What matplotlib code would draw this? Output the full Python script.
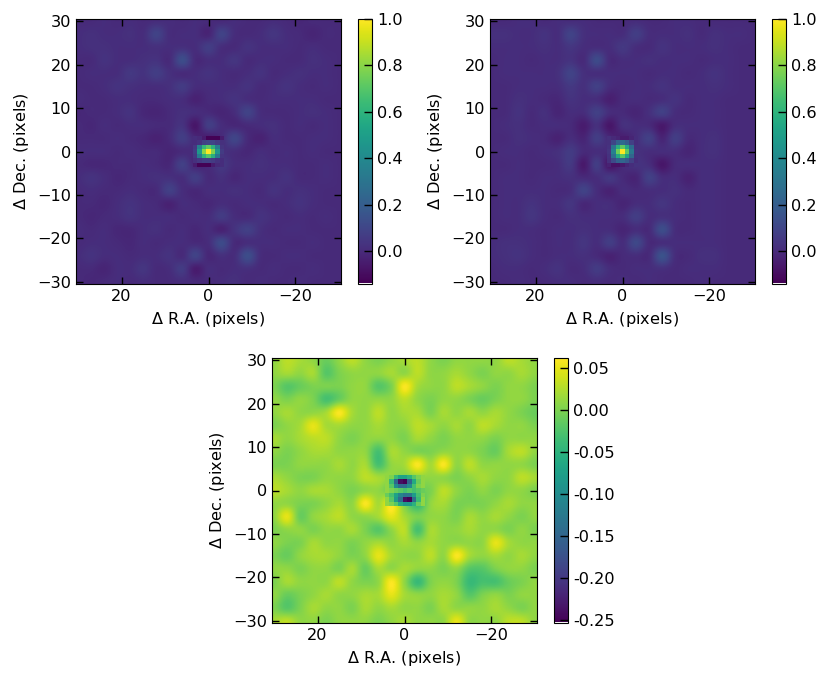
import matplotlib
matplotlib.use("Agg")
import matplotlib.pyplot as plt
import numpy as np

# coarse maps, one value every 3 pixels (Dec +30 -> -30, R.A. +30 -> -30), units of 0.01
model_a = [
    [ 0, 0, 1, 0, 1, 0, 1, 1, 0, 1, 0, 0, 1, 0, 0, 1, 0,-1, 0, 0, 0],
    [ 1, 2, 1, 1, 2, 1, 9, 1, 1, 1,-2, 9, 1, 0, 1, 4, 1, 0,-2, 0, 0],
    [ 1, 2, 2, 1, 1, 1, 2, 1, 2, 1, 7, 1, 0, 3, 1, 1, 1, 0, 1, 0, 0],
    [ 0, 0, 3, 1, 1, 2, 3, 0, 13, 0, 1, 1, 4, 0, 1, 1, 0, 0, 2, 1, 0],
    [ 0, 1, 1, 1, 5, 3, 7, 2, 0, 1, 3, 1, 0, 1, 3, 0, 1, 2, 1, 1, 0],
    [ 0, 0, 1, 3, 2, 1, 1, 2, 6, 1, 1, 1, 1, 3, 0, 1, 3, 1, 0, 1, 0],
    [ 1, 0, 0, 1, 1, 0, 0, 1, 1,-3, 0, 1, 3, 1, 0, 1, 1, 1, 1, 0, 0],
    [-1, 0, 0, 1, 3,-1,-2, 0, 2, 1, 0,-2, 1, 9, 1, 0, 0, 1, 2, 1, 0],
    [ 0,-1, 1, 0, 1, 1, 0, 0, 3,-7, 7, 1,-1, 0, 1, 2, 0, 1, 0, 1, 0],
    [ 0, 0, 0, 1, 0,-1,-3, 0, 7,-1,-5, 0,10, 0,-3, 1, 0, 0, 1, 1, 0],
    [ 1, 1, 1, 0, 1, 0, 0,-2, 0, 0, 0, 2, 1,-1, 1, 0, 1, 0, 1, 0, 0],
    [ 0,-1,-1, 0, 0, 1, 0,-1, 8,-2, 0, 5, 1, 1, 2, 1, 1, 0, 0, 1, 0],
    [ 1, 3, 1,-1, 0, 1, 2, 2, 1, 7, 0, 2,-1, 1, 1, 1, 3, 0, 0, 1, 0],
    [ 0, 1, 0, 0, 1, 0, 0, 8, 1,-1, 1, 1, 2, 1, 0, 3, 1, 2, 1, 0, 0],
    [ 0, 0,-1, 1, 3, 1, 0,-3, 1, 0,-1, 1, 0, 1, 1, 0, 1, 3, 1, 0, 0],
    [ 0,-1, 0, 1, 3, 1, 1, 1, 0, 1, 1, 6, 1, 0, 3, 1, 0, 1, 0, 1, 0],
    [ 1, 0, 1,-1,-1, 1, 2, 0, 1,-1, 1,-3, 3, 8, 2, 0, 1, 1, 0, 0, 0],
    [ 0, 1, 1, 0,-1, 1, 0, 1, 1, 0, 1,12, 0, 1, 1, 1, 0, 0, 1, 0, 0],
    [ 1, 3, 1, 1, 0, 1, 1, 3, 0, 9,-1, 2, 1, 13, 1, 0, 1, 1, 0, 0, 0],
    [ 0, 0,-2, 1, 1, 4, 0, 1, 6,-5, 1, 0, 1, 2, 0, 1, 0, 0, 1, 0, 0],
    [ 0,-1, 0, 1, 0, 1, 0, 0, 1, 0, 0, 1, 2, 0, 1, 0, 0, 1, 0, 0, 0],
]
model_b = [
    [ 0, 0, 1, 1, 0, 1, 1, 1, 0, 0, 0, 1, 0, 0, 1, 1, 0, 0, 0, 0, 0],
    [ 2, 2, 1, 1, 3, 1, 9, 2, 1, 1, 1, 7, 1, 1, 1, 2, 0, 2, 1, 1, 0],
    [ 1, 1, 1, 1, 2, 1, 4, 1, 1, 1, 5, 1, 0, 3, 1, 1, 1, 2, 1, 0, 0],
    [ 0, 1, 1, 0, 1, 1, 3, 0, 12, 0, 1, 1, 2, 1, 1, 1, 0, 1, 1, 0, 0],
    [ 0, 1, 1, 1, 1, 2, 9, 2, 1, 1, 1, 1, 0, 1, 1, 0, 1, 3, 1, 0, 0],
    [ 0, 0, 1, 1, 1, 1, 5, 2, 8, 1, 0, 1, 1, 3, 1, 1, 1, 2, 1, 0, 0],
    [ 0, 0, 2, 1, 0,-1, 3, 1, 1,-4, 0, 1, 0, 1, 3, 0, 1, 1, 0, 0, 0],
    [ 0, 0, 3, 0, 2,-2, 1, 1, 8, 1, 0,-2, 2, 8, 1, 0, 1, 1, 0, 0, 0],
    [ 0, 1, 2, 0, 1, 1, 0,-5, 2,-7, 2, 1, 0,-6, 1, 1, 1, 1, 0, 0, 0],
    [ 0, 0, 2, 1, 0,-3, 1,-2, 7,-1,-4, 1, 8,-2, 7, 0, 1, 2, 0, 0, 0],
    [ 0, 1, 1, 0, 1, 2, 6, 0, 1, 0, 0, 2, 1, 1, 1,-2, 1, 2, 0, 0, 0],
    [ 0, 0, 1, 0, 0, 1, 5,-6, 7,-8, 0, 3, 1,-7, 0, 1, 1, 1, 0, 0, 0],
    [ 0, 1, 1, 0, 1, 1, 2, 0, 1, 5, 0,-2, 8, 1, 1,-3, 1, 1, 0, 0, 0],
    [ 0, 1, 1, 1, 1, 0, 1, 9, 1,-3, 1, 0, 1, 1, 2, 0, 1, 1, 0, 0, 0],
    [ 0, 1, 1, 3, 1, 1, 4,-1, 1, 1,-2, 1, 1, 4, 1, 0, 1, 1, 0, 0, 0],
    [ 0, 1, 1, 4, 1, 0, 2, 1, 1, 1, 1, 7, 1, 2, 1, 0, 1, 1, 0, 0, 0],
    [ 0, 0, 1, 1, 0, 1, 1, 2, 1, 1,-2, 1, 0,13, 1, 0, 1, 1, 0, 0, 0],
    [ 1, 2, 2, 1, 0, 1, 1, 4, 1, 7, 1,11, 0, 1, 1, 1, 1, 1, 0, 0, 0],
    [ 1, 2, 3, 1, 0, 1, 1, 2, 0,-3, 0, 1, 0,15, 1, 0, 2, 2, 0, 0, 0],
    [ 0, 1, 1, 0, 1, 3, 0, 1, 6, 1, 0, 1, 1, 2, 0, 1, 1, 1, 0, 0, 0],
    [ 0, 0, 1, 0, 0, 1, 1, 0, 1, 0, 1, 0, 1, 0, 0, 0, 1, 0, 0, 0, 0],
]
residual = [
    [ 1, 3, 2, 1,-1, 1, 3, 1, 0, 1, 2, 3, 1, 0, 1, 1, 1, 1, 3, 2, 1],
    [ 1, 2, 1, 2,-2, 0, 1, 1, 1, 2, 1, 3, 1, 1, 2, 1, 0, 1, 1, 2, 1],
    [ 0,-2,-1, 0, 0, 0, 1, 1,-2, 0, 6, 2, 1, 1, 3, 2, 1, 0, 1, 1, 0],
    [ 1, 0, 1, 0,-3,-1, 1, 1, 1, 1, 3, 1, 0, 1, 1, 0,-1, 0, 1, 1, 0],
    [ 1, 2, 1, 1, 2, 6, 2, 1, 3, 1, 2, 2, 0, 2, 1, 2, 1, 2, 1, 0,-1],
    [ 0, 1, 2, 5, 2, 2, 1, 1, 2, 1, 1, 3, 2, 1, 2, 1, 3, 2, 1, 1, 0],
    [ 2, 1, 2, 3, 3, 1, 0, 1, 1, 1, 0, 2, 1, 0, 1, 1, 1, 0, 1, 1, 1],
    [ 1, 0, 1, 2, 2, 1, 1, 1,-3, 2, 1, 0, 0, 1, 1, 1, 0,-1, 2, 3, 1],
    [ 0, 0, 1, 1, 1, 2, 1, 2,-3, 1, 2, 6, 2, 6, 1, 3, 1, 1, 1, 1, 0],
    [ 2, 1, 0, 0, 1, 1, 1, 3, 2, 1, 0, 1, 1, 1, 0, 1, 2, 1, 1, 3, 2],
    [ 3, 2, 1, 2, 2, 1, 0, 1, 1,-1,-2,-1, 0, 3, 1, 0, 1, 0, 1, 1, 0],
    [ 1, 1, 0, 0, 1, 2, 1, 6, 2, 6, 0,-4, 1, 2, 0, 0, 0, 1, 2, 1, 1],
    [ 1, 5,-1, 1, 2, 3, 1, 1, 2, 5, 2, 0, 1, 1, 0, 2, 1, 2, 1, 0, 1],
    [ 0, 1, 1, 0, 1, 1, 2, 0,-2, 1, 3,-3, 2, 1, 1, 2, 1, 1, 0, 1, 0],
    [ 1, 0, 0, 2, 1, 1, 0, 1, 2, 1, 2, 1, 2, 1, 1, 1, 1, 5, 2, 1, 1],
    [ 0,-1, 1, 2, 2, 1, 0, 1, 5, 2, 1, 1, 3, 1, 6, 2, 1, 2, 1, 2, 1],
    [ 1, 1, 0, 1, 1, 0, 2,-1, 2, 1, 2, 1, 1, 0, 1,-2,-2, 0, 1, 1, 0],
    [ 0, 2, 1, 1, 1, 3, 1, 0, 1, 6, 1,-4, 0, 1, 0,-4,-3,-3,-1, 0, 1],
    [ 1,-1, 0, 1, 2, 1, 1, 2, 2, 5, 2, 1, 1, 2, 1,-2, 0, 1, 0, 1, 1],
    [ 0,-2, 0, 2, 1, 1, 0, 2, 1, 2, 1, 1, 0, 2, 1, 1, 1, 2, 1, 0, 1],
    [ 2, 3, 1, 1, 0, 1, 1, 1, 0, 1, 2, 1, 1, 1, 5, 1, 1, 1, 3, 3, 1],
]

# pixel-scale centres, R.A. +N -> -N across, Dec +N -> -N down
core_a = [
    [ 0.01, 0.00,-0.05,-0.13,-0.13,-0.13,-0.05],
    [ 0.01, 0.03, 0.08, 0.10, 0.10, 0.06, 0.02],
    [ 0.05, 0.36, 0.62, 0.72, 0.60, 0.34, 0.04],
    [ 0.07, 0.48, 0.80, 1.00, 0.78, 0.46, 0.06],
    [ 0.05, 0.34, 0.60, 0.70, 0.58, 0.32, 0.04],
    [ 0.02, 0.05, 0.08, 0.08, 0.06, 0.03, 0.01],
    [-0.05,-0.13,-0.13,-0.13,-0.05, 0.00, 0.01],
]
core_b = [
    [ 0.02, 0.00,-0.02,-0.05,-0.05,-0.02, 0.01],
    [ 0.02, 0.10, 0.22, 0.26, 0.20, 0.08, 0.01],
    [ 0.03, 0.30, 0.58, 0.72, 0.55, 0.26, 0.02],
    [ 0.04, 0.36, 0.75, 1.00, 0.72, 0.32, 0.03],
    [ 0.03, 0.28, 0.56, 0.70, 0.52, 0.24, 0.02],
    [ 0.02, 0.12, 0.22, 0.24, 0.18, 0.08, 0.01],
    [-0.03,-0.08,-0.08,-0.06,-0.02, 0.01, 0.03],
]
core_res = [
    [ 0.01, 0.00,-0.04,-0.07,-0.07,-0.05,-0.02, 0.00, 0.01],
    [ 0.01,-0.04,-0.15,-0.24,-0.25,-0.15,-0.06,-0.01, 0.01],
    [ 0.01,-0.02,-0.10,-0.14,-0.14,-0.10,-0.03, 0.00, 0.01],
    [ 0.01, 0.00,-0.01,-0.02,-0.03,-0.02,-0.03,-0.02,-0.01],
    [-0.01,-0.03,-0.07,-0.11,-0.13,-0.13,-0.08,-0.03, 0.00],
    [ 0.01,-0.02,-0.08,-0.14,-0.24,-0.25,-0.14,-0.04, 0.01],
    [ 0.01, 0.00,-0.02,-0.06,-0.08,-0.08,-0.05,-0.01, 0.01],
]

ticks = [-30, -20, -10, 0, 10, 20, 30]
xticks = [-20, 0, 20]
cb_ticks_top = [0.0, 0.2, 0.4, 0.6, 0.8, 1.0]
cb_ticks_res = [-0.25, -0.20, -0.15, -0.10, -0.05, 0.00, 0.05]

W, H = 830., 683.
fs = 11.6


def panel(left, top, grid, core, vmin, vmax, cticks, cfmt):
    ax = fig.add_axes([left/W, 1-(top+265)/H, 265/W, 265/H])
    ext = (31.5, -31.5, -31.5, 31.5)
    # catrom passes through the grid values, agg's bicubic smooths them away
    im = ax.imshow(np.array(grid)*0.01, extent=ext, cmap='viridis', vmin=vmin, vmax=vmax,
                   interpolation='catrom', aspect='equal')
    core = np.array(core)
    ny, nx = core.shape
    ax.imshow(core, extent=(nx/2., -nx/2., -ny/2., ny/2.), cmap='viridis', vmin=vmin, vmax=vmax,
              interpolation='nearest', aspect='equal')
    ax.set_xlim(30.5, -30.5)
    ax.set_ylim(-30.5, 30.5)
    ax.set_xticks(xticks)
    ax.set_yticks(ticks)
    ax.tick_params(direction='in', top=True, right=True, length=5, width=1, labelsize=fs)
    ax.set_xlabel(r'$\Delta$ R.A. (pixels)', fontsize=fs, labelpad=4.5)
    ax.set_ylabel(r'$\Delta$ Dec. (pixels)', fontsize=fs, labelpad=4.5)

    cax = fig.add_axes([(left+282)/W, 1-(top+265)/H, 14/W, 265/H])
    cb = fig.colorbar(im, cax=cax)
    cb.set_ticks(cticks)
    cb.set_ticklabels([cfmt % t for t in cticks])
    cax.tick_params(direction='in', length=6, width=1, labelsize=fs)
    # thin white strip at the foot of the bar
    cax.set_ylim(vmin - 0.005*(vmax-vmin), vmax)
    return ax


fig = plt.figure(figsize=(8.3, 6.83), dpi=100)
panel(76, 19, model_a, core_a, -0.137, 1.0, cb_ticks_top, '%.1f')
panel(490, 19, model_b, core_b, -0.137, 1.0, cb_ticks_top, '%.1f')
panel(272, 358, residual, core_res, -0.252, 0.062, cb_ticks_res, '%.2f')

plt.savefig("out.png", dpi=100)
